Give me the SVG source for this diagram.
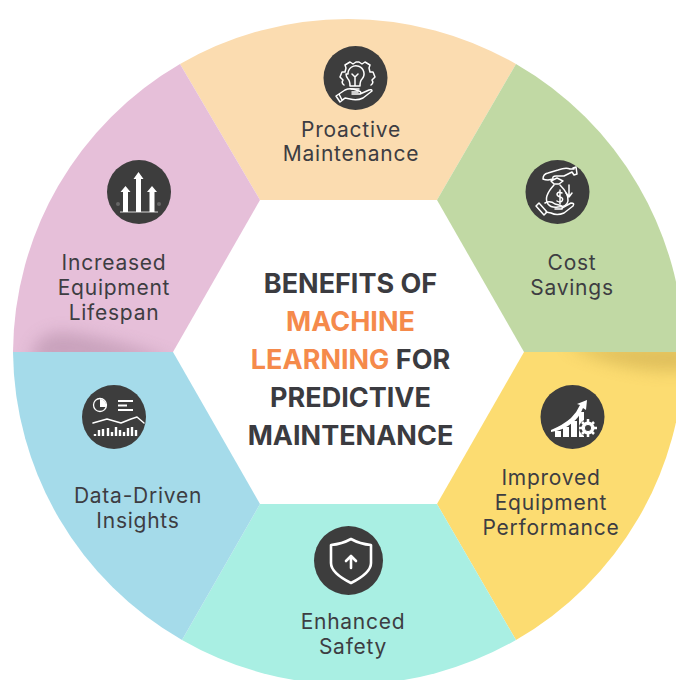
<svg xmlns="http://www.w3.org/2000/svg" width="676" height="680" viewBox="0 0 676 680">
<style>
.l{font-family:"Inter","Liberation Sans",sans-serif;font-size:21px;fill:#3d3d42;text-anchor:middle;letter-spacing:.75px}
.t{font-family:"Inter","Liberation Sans",sans-serif;font-size:27px;font-weight:700;fill:#3b3b40;text-anchor:middle}
.o{fill:#f58a4b}
.c{fill:#3d3d3d}
.s{fill:none;stroke:#fff;stroke-width:1.500;stroke-linejoin:round;stroke-linecap:round}
.b{fill:none;stroke:#fff;stroke-width:2.600;stroke-linejoin:round;stroke-linecap:round}
.f{fill:#fff}
</style>
<defs>
<filter id="bl" x="-30%" y="-100%" width="160%" height="300%"><feGaussianBlur stdDeviation="8"/></filter>
<clipPath id="cp"><path d="M13 352H173L260 200 180 64A335.500 335.500 0 0 0 13 352Z"/></clipPath>
<clipPath id="cy"><path d="M684 352H524L437 504 516 640A335.500 335.500 0 0 0 684 352Z"/></clipPath>
</defs>
<rect width="676" height="680" fill="#fff"/>
<g id="sector-proactive"><path d="M260 200H437L516 64A335.500 335.500 0 0 0 180 64Z" fill="#fbdcb0"/></g>
<g id="sector-cost"><path d="M437 200L524 352H684A335.500 335.500 0 0 0 516 64Z" fill="#c1d9a4"/></g>
<g id="sector-performance"><path d="M524 352L437 504 516 640A335.500 335.500 0 0 0 684 352Z" fill="#fcdc71"/>
<path clip-path="url(#cy)" d="M565 345H690V370Q630 376 565 345Z" fill="#b8983f" opacity=".42" filter="url(#bl)"/></g>
<g id="sector-safety"><path d="M437 504H260L182 640A335.500 335.500 0 0 0 516 640Z" fill="#a9efe3"/></g>
<g id="sector-insights"><path d="M260 504L173 352H13A335.500 335.500 0 0 0 182 640Z" fill="#a5dbea"/></g>
<g id="sector-lifespan"><path d="M173 352L260 200 180 64A335.500 335.500 0 0 0 13 352Z" fill="#e6bfd9"/>
<path clip-path="url(#cp)" d="M30 362Q35 328 70 333Q120 340 178 362Z" fill="#a07a94" opacity=".42" filter="url(#bl)"/></g>

<g id="node-proactive">
<circle class="c" cx="355.500" cy="78" r="32"/>
<path class="s" d="M348 74a8 8 0 1 1 14 5q-2 2-2 7h-10q0-5-2-7a8 8 0 0 1-2-5zM351 89h8M352 92h6M355 86v-9l-3-3M355 77l3-3"/>
<path class="s" d="M344 85q-3-2-1-5l-3-3 2-5 3 0 1-4-1-3 5-3 3 2 3-2 3 0 3 2 3-2 5 3-1 3 1 4 3 0 2 5-3 3q2 3-1 5"/>
<path class="s" d="M339 94l6-4q4-2 8-1l6 2q3 1 1 3h-8l8 0 9-4q3-1 3 1l-9 7q-6 3-13 1l-5-1-3 2zM339 94l-3 2 4 6 4-3"/>
<text class="l" x="351" y="137">Proactive</text>
<text class="l" x="351" y="161">Maintenance</text>
</g>

<g id="node-cost">
<circle class="c" cx="557.500" cy="192" r="32"/>
<path class="s" d="M543 179q0-5 5-6l10-3q8-3 12-1l4 0 0-1 -1 0 3-1 1 7-3 1-2-3-8 4h-8q-4 0-3 3-5 1-5 1-3 0-5-1zM551 181l6-3 6 3-4 3h-5z"/>
<path class="s" d="M554 185q-11 12-6 19 3 4 10 3 9 0 10-6 1-7-8-16M562 193q-4-2-5 1 0 2 3 3 4 1 2 4-2 2-5 0M560 190v14"/>
<path class="s" d="M539 203l8 9-3 3-8-9zM545 203q5-3 10 1l4 1q5 1 3 4h-7M562 208l9-5q4 0 2 3l-9 7q-7 3-13 0l-5-1"/>
<path class="s" d="M569 185v11M566 193l3 4 3-4"/>
<text class="l" x="572" y="270">Cost</text>
<text class="l" x="572" y="295">Savings</text>
</g>

<g id="node-performance">
<circle class="c" cx="572.500" cy="417" r="32"/>
<path class="f" d="M551 430q12-5 20-12 6-6 9-13l-3-1 10-4-1 10-3-2q-4 10-11 15-8 7-21 9z"/>
<rect class="f" x="555" y="431" width="6" height="6"/><rect class="f" x="563" y="427" width="6" height="10"/><rect class="f" x="571" y="421" width="6" height="16"/><rect class="f" x="579" y="412" width="5" height="25"/>
<circle cx="588" cy="428" r="9" fill="#3d3d3d"/>
<circle cx="588" cy="428" r="5" fill="none" stroke="#fff" stroke-width="3"/>
<path d="M588 419v18M579 428h18M582 422l12 12M594 422l-12 12" stroke="#fff" stroke-width="2.500"/>
<circle cx="588" cy="428" r="3" fill="#3d3d3d"/>
<text class="l" x="551" y="485">Improved</text>
<text class="l" x="551" y="510">Equipment</text>
<text class="l" x="551" y="535">Performance</text>
</g>

<g id="node-safety">
<circle class="c" cx="348.500" cy="560.500" r="34.500"/>
<path class="b" d="M331 545q11-1 20-6 9 5 20 6v18q0 10-20 20-20-10-20-20z" stroke-width="2"/>
<path class="b" d="M351 568v-12M346 561l5-5 5 5"/>
<text class="l" x="353" y="629">Enhanced</text>
<text class="l" x="353" y="654">Safety</text>
</g>

<g id="node-insights">
<circle class="c" cx="114" cy="417" r="32"/>
<circle cx="100" cy="405" r="6.500" fill="none" stroke="#fff" stroke-width="1.300"/>
<path class="f" d="M100 399a6.500 6.500 0 0 1 6 8h-6z"/>
<path d="M118 401h15M118 405.500h9M118 410h15" stroke="#fff" stroke-width="2.200"/>
<path class="s" d="M93 423l14-4 14 4 10-4 6-2 7 6" stroke-width="1.200"/>
<path d="M95 436v-2M99 436v-6M103 436v-7M108 436v-8M112 436v-4M116 436v-9M120 436v-6M124 436v-4M128 436v-8M132 436v-9M136 436v-6" stroke="#fff" stroke-width="2.400"/>
<text class="l" x="138" y="503">Data-Driven</text>
<text class="l" x="138" y="528">Insights</text>
</g>

<g id="node-lifespan">
<circle class="c" cx="139" cy="192" r="32"/>
<path class="f" d="M138.500 172l5 7h-2.500v33h-5v-33h-2.500zM125.500 186l5 6h-2.500v20h-5v-20h-2.500zM152 186l5 6h-2.500v20h-5v-20h-2.500z"/>
<path d="M120 212h38" stroke="#fff" stroke-width=".8"/>
<circle cx="118" cy="204" r="2" fill="#666"/><circle cx="159" cy="204" r="2" fill="#666"/>
<text class="l" x="114" y="270">Increased</text>
<text class="l" x="114" y="295">Equipment</text>
<text class="l" x="114" y="320">Lifespan</text>
</g>

<g id="title">
<text class="t" x="350.500" y="293">BENEFITS OF</text>
<text class="t o" x="350.500" y="331">MACHINE</text>
<text class="t" x="350.500" y="369"><tspan class="o">LEARNING</tspan> FOR</text>
<text class="t" x="350.500" y="407">PREDICTIVE</text>
<text class="t" x="350.500" y="445">MAINTENANCE</text>
</g>
</svg>
